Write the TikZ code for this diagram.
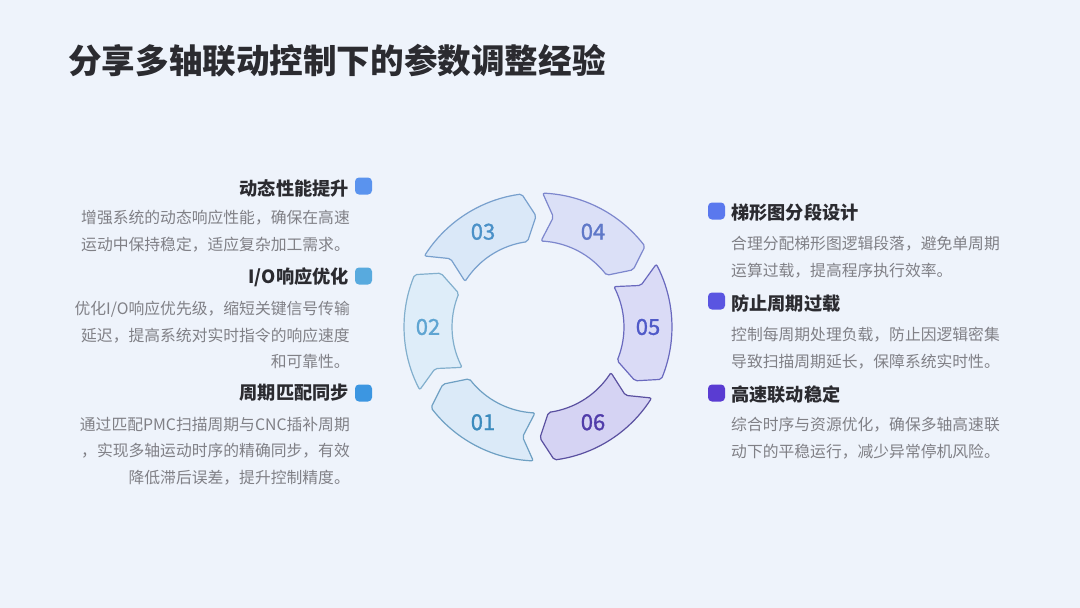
\documentclass[tikz,border=0pt]{standalone}
\usepackage{fontspec}
\setmainfont{Noto Sans CJK SC}
\newfontfamily\numfont{Noto Sans CJK SC}[FakeBold=1.2]
\usetikzlibrary{positioning}
\definecolor{BgBlue}{RGB}{238,243,251}
\definecolor{HeadGray}{RGB}{43,43,48}
\definecolor{BodyGray}{RGB}{128,128,134}
\definecolor{SegFill1}{RGB}{219,234,248}
\definecolor{SegLine1}{RGB}{110,160,195}
\definecolor{SegText1}{RGB}{60,140,190}
\definecolor{SegFill2}{RGB}{222,237,249}
\definecolor{SegLine2}{RGB}{130,175,205}
\definecolor{SegText2}{RGB}{95,165,210}
\definecolor{SegFill3}{RGB}{218,232,248}
\definecolor{SegLine3}{RGB}{120,160,205}
\definecolor{SegText3}{RGB}{75,145,200}
\definecolor{SegFill4}{RGB}{219,224,247}
\definecolor{SegLine4}{RGB}{125,135,205}
\definecolor{SegText4}{RGB}{95,120,200}
\definecolor{SegFill5}{RGB}{218,219,246}
\definecolor{SegLine5}{RGB}{105,105,190}
\definecolor{SegText5}{RGB}{80,90,200}
\definecolor{SegFill6}{RGB}{213,211,243}
\definecolor{SegLine6}{RGB}{90,80,160}
\definecolor{SegText6}{RGB}{80,60,170}
\definecolor{MarkA}{RGB}{90,147,238}
\definecolor{MarkB}{RGB}{88,170,222}
\definecolor{MarkC}{RGB}{60,150,225}
\definecolor{MarkD}{RGB}{90,120,238}
\definecolor{MarkE}{RGB}{90,85,225}
\definecolor{MarkF}{RGB}{90,60,210}

\begin{document}
\begin{tikzpicture}[x=1pt, y=1pt,
	seg/.style={line width=1.2pt, rounded corners=2pt},
	num/.style={font=\numfont\fontsize{22}{24}\selectfont, inner sep=0pt},
	hd/.style={font=\fontsize{18.2}{22}\selectfont\bfseries, text=HeadGray, inner sep=0pt},
	bd/.style={font=\fontsize{15.8}{26.5}\selectfont, text=BodyGray, inner sep=0pt},
	mk/.style={rounded corners=4pt, minimum size=17pt, inner sep=0pt}]
	\fill[BgBlue] (0,0) rectangle (1080,-608);
	\useasboundingbox (0,0) rectangle (1080,-608);
	\node[anchor=west, font=\fontsize{33.6}{40}\selectfont\bfseries, text=HeadGray, inner sep=0pt] (title) at (68,-61) {分享多轴联动控制下的参数调整经验};

	% ring of six arrow pieces
	\begin{scope}[shift={(538,-327)}]
		\foreach \a/\n [count=\i, evaluate=\a as \hA using \a-23, evaluate=\a as \tA using \a+28,
			evaluate=\a as \pA using \a-29, evaluate=\a as \kA using \a+22]
			in {240/01, 180/02, 120/03, 60/04, 0/05, -60/06} {
			\draw[seg, draw=SegLine\i, fill=SegFill\i]
				plot[domain=\tA:\hA, samples=25] (\x:134) -- (\pA:111)
				-- plot[domain=\hA:\tA, samples=25] (\x:86) -- (\kA:111) -- cycle;
			\node[num, text=SegText\i] (n\i) at (\a:110) {\n};
		}
	\end{scope}

	% left column
	\node[mk, fill=MarkA] (m1) at (363.5,-186) {};
	\node[hd, anchor=east] (h1) at (349,-188) {动态性能提升};
	\node[bd, anchor=north east, align=right] (b1) at (350,-210) {增强系统的动态响应性能，确保在高速\\运动中保持稳定，适应复杂加工需求。};
	\node[mk, fill=MarkB] (m2) at (363.5,-276) {};
	\node[hd, anchor=east] (h2) at (349,-277) {I/O响应优化};
	\node[bd, anchor=north east, align=right] (b2) at (350,-301) {优化I/O响应优先级，缩短关键信号传输\\延迟，提高系统对实时指令的响应速度\\和可靠性。};
	\node[mk, fill=MarkC] (m3) at (363.5,-393) {};
	\node[hd, anchor=east] (h3) at (349,-393) {周期匹配同步};
	\node[bd, anchor=north east, align=right] (b3) at (350,-417) {通过匹配PMC扫描周期与CNC插补周期\\，实现多轴运动时序的精确同步，有效\\降低滞后误差，提升控制精度。};

	% right column
	\node[mk, fill=MarkD] (m4) at (716.5,-211) {};
	\node[hd, anchor=west] (h4) at (731,-213) {梯形图分段设计};
	\node[bd, anchor=north west, align=left] (b4) at (731,-236) {合理分配梯形图逻辑段落，避免单周期\\运算过载，提高程序执行效率。};
	\node[mk, fill=MarkE] (m5) at (716.5,-301) {};
	\node[hd, anchor=west] (h5) at (731,-304) {防止周期过载};
	\node[bd, anchor=north west, align=left] (b5) at (731,-327) {控制每周期处理负载，防止因逻辑密集\\导致扫描周期延长，保障系统实时性。};
	\node[mk, fill=MarkF] (m6) at (716.5,-393) {};
	\node[hd, anchor=west] (h6) at (731,-395) {高速联动稳定};
	\node[bd, anchor=north west, align=left] (b6) at (731,-417) {综合时序与资源优化，确保多轴高速联\\动下的平稳运行，减少异常停机风险。};
\end{tikzpicture}
\end{document}
